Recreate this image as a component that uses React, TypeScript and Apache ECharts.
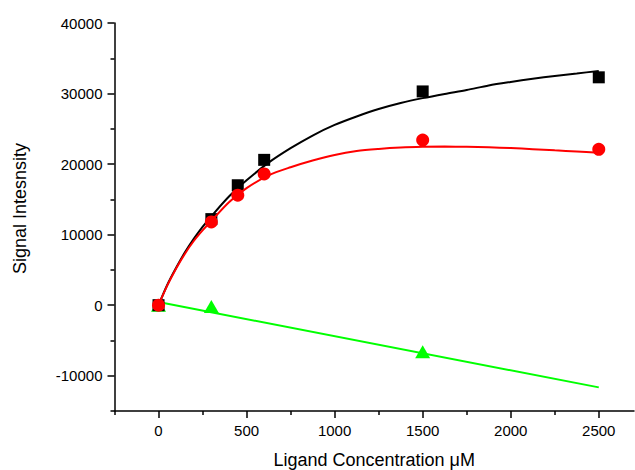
import React, { useEffect, useRef } from "react";
import * as echarts from "echarts";

// Measured points
const blackPoints: [number, number][] = [[0, 0], [300, 12200], [450, 17000], [600, 20600], [1500, 30300], [2500, 32300]];
const redPoints: [number, number][] = [[0, 0], [300, 11800], [450, 15600], [600, 18600], [1500, 23400], [2500, 22100]];
const greenPoints: [number, number][] = [[0, 0], [300, -200], [1500, -6600]];

// Fitted curves
const blackFit: [number, number][] = [
  [0, 0], [50, 2900], [100, 5300], [150, 7500], [200, 9400], [250, 11100], [300, 12600], [400, 15400],
  [500, 17700], [625, 20200], [750, 22250], [875, 24050], [1000, 25550], [1125, 26750], [1250, 27800],
  [1375, 28650], [1500, 29350], [1625, 29950], [1750, 30500], [1875, 31150], [2000, 31650], [2125, 32100],
  [2250, 32500], [2375, 32850], [2500, 33200],
];
const redFit: [number, number][] = [
  [0, 0], [50, 2800], [100, 5200], [150, 7300], [200, 9100], [250, 10600], [300, 11950], [400, 14600],
  [500, 16600], [625, 18400], [750, 19550], [875, 20500], [1000, 21300], [1125, 21850], [1250, 22150],
  [1375, 22350], [1500, 22450], [1625, 22480], [1750, 22450], [1875, 22380], [2000, 22270], [2125, 22120],
  [2250, 21950], [2375, 21780], [2500, 21600],
];
const greenFit: [number, number][] = [[0, 450], [2500, -11650]];

const xMajor = [0, 500, 1000, 1500, 2000, 2500];
const xMinor = [-250, 250, 750, 1250, 1750, 2250];
const yMajor = [-10000, 0, 10000, 20000, 30000, 40000];
const yMinor = [-15000, -5000, 5000, 15000, 25000, 35000];

const FONT = "Liberation Sans, Arial, sans-serif";

export default function App() {
  const ref = useRef<HTMLDivElement>(null);
  useEffect(() => {
    document.body.style.margin = "0";
    if (!ref.current) return;
    const chart = echarts.init(ref.current, null, { renderer: "svg" });
    const X = { min: -250, max: 2700 };
    const Y = { min: -15000, max: 40000 };
    const tickStyle = { color: "#000", width: 1.5 };
    const fmt = (v: number) => String(v);
    chart.setOption({
      animation: false,
      backgroundColor: "#fff",
      grid: { left: 114.5, right: 1, top: 23, bottom: 59, containLabel: false, outerBoundsMode: "none" },
      xAxis: [
        {
          type: "value", ...X, position: "bottom",
          axisLine: { show: true, onZero: false, lineStyle: tickStyle },
          splitLine: { show: false },
          axisTick: { show: true, inside: false, length: 7, customValues: xMajor, lineStyle: tickStyle },
          axisLabel: { customValues: xMajor, formatter: fmt, color: "#000", fontSize: 15, fontFamily: FONT, margin: 12 },
          name: "Ligand Concentration \u03bcM", nameLocation: "middle", nameGap: 40,
          nameTextStyle: { color: "#000", fontSize: 18, fontFamily: FONT },
        },
        {
          type: "value", ...X, position: "bottom", gridIndex: 0,
          axisLine: { show: false, onZero: false },
          splitLine: { show: false },
          axisTick: { show: true, inside: false, length: 4, customValues: xMinor, lineStyle: tickStyle },
          axisLabel: { show: false },
        },
      ],
      yAxis: [
        {
          type: "value", ...Y, position: "left",
          axisLine: { show: true, onZero: false, lineStyle: tickStyle },
          splitLine: { show: false },
          axisTick: { show: true, inside: false, length: 7, customValues: yMajor, lineStyle: tickStyle },
          axisLabel: { customValues: yMajor, formatter: fmt, color: "#000", fontSize: 15, fontFamily: FONT, margin: 12 },
        },
        {
          type: "value", ...Y, position: "left", gridIndex: 0,
          axisLine: { show: false, onZero: false },
          splitLine: { show: false },
          axisTick: { show: true, inside: false, length: 4, customValues: yMinor, lineStyle: tickStyle },
          axisLabel: { show: false },
        },
      ],
      graphic: [
        {
          type: "text", x: 20, y: 208.5, rotation: Math.PI / 2,
          style: { text: "Signal Intesnsity", fill: "#000", fontSize: 18, fontFamily: FONT, align: "center", verticalAlign: "middle" },
        },
      ],
      series: [
        { type: "line", data: greenFit, showSymbol: false, symbol: "none", lineStyle: { color: "#00ff00", width: 2 }, z: 2 },
        { type: "scatter", data: greenPoints, symbol: "triangle", symbolSize: [15, 13], itemStyle: { color: "#00ff00", opacity: 1 }, z: 3 },
        { type: "line", data: blackFit, smooth: 0.3, showSymbol: false, symbol: "none", lineStyle: { color: "#000", width: 2 }, z: 4 },
        { type: "scatter", data: blackPoints, symbol: "rect", symbolSize: 12, itemStyle: { color: "#000", opacity: 1 }, z: 5 },
        { type: "line", data: redFit, smooth: 0.3, showSymbol: false, symbol: "none", lineStyle: { color: "#ff0000", width: 2 }, z: 6 },
        { type: "scatter", data: redPoints, symbol: "circle", symbolSize: 13, itemStyle: { color: "#ff0000", opacity: 1 }, z: 7 },
      ],
    });
    return () => chart.dispose();
  }, []);
  return <div ref={ref} style={{ width: 635, height: 470 }} />;
}
